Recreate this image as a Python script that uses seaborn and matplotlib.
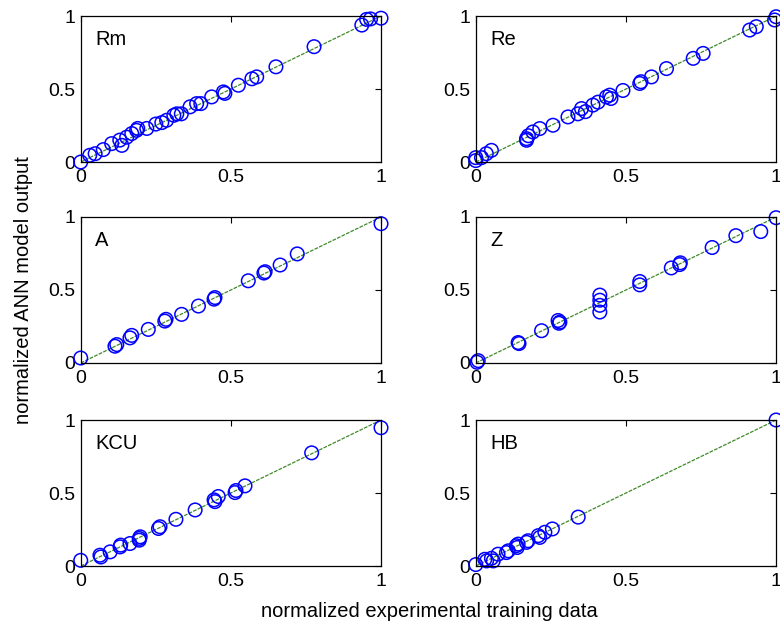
import matplotlib
matplotlib.use("Agg")
import matplotlib.pyplot as plt
import seaborn as sns
import pandas as pd

# ---- data ----
panel_names = ["Rm", "Re", "A", "Z", "KCU", "HB"]

rm_x = [0.0, 0.03, 0.048, 0.075, 0.103, 0.13, 0.137, 0.153, 0.17, 0.186, 0.19, 0.22, 0.25, 0.27, 0.286, 0.31, 0.32, 0.335, 0.364, 0.386, 0.40, 0.436, 0.475, 0.48, 0.525, 0.57, 0.586, 0.65, 0.777, 0.936, 0.952, 0.965, 1.0]
rm_y = [0.0, 0.046, 0.057, 0.085, 0.126, 0.15, 0.114, 0.17, 0.195, 0.217, 0.23, 0.23, 0.26, 0.27, 0.286, 0.32, 0.33, 0.33, 0.378, 0.40, 0.40, 0.446, 0.48, 0.47, 0.526, 0.57, 0.583, 0.652, 0.79, 0.938, 0.977, 0.98, 0.985]

re_x = [0.0, 0.0, 0.019, 0.035, 0.052, 0.169, 0.175, 0.169, 0.19, 0.213, 0.257, 0.307, 0.34, 0.352, 0.365, 0.39, 0.407, 0.435, 0.446, 0.45, 0.49, 0.546, 0.55, 0.585, 0.635, 0.724, 0.757, 0.912, 0.934, 0.995, 1.0]
re_y = [0.03, 0.01, 0.03, 0.057, 0.08, 0.16, 0.18, 0.149, 0.206, 0.229, 0.252, 0.309, 0.33, 0.366, 0.345, 0.39, 0.41, 0.446, 0.458, 0.435, 0.49, 0.538, 0.55, 0.583, 0.64, 0.71, 0.744, 0.904, 0.927, 0.973, 0.995]

a_x = [0.0, 0.114, 0.12, 0.164, 0.17, 0.225, 0.28, 0.284, 0.336, 0.392, 0.444, 0.447, 0.558, 0.61, 0.614, 0.664, 0.721, 1.0]
a_y = [0.034, 0.115, 0.126, 0.172, 0.189, 0.23, 0.287, 0.299, 0.333, 0.39, 0.437, 0.448, 0.563, 0.616, 0.625, 0.671, 0.747, 0.954]

z_x = [0.004, 0.008, 0.141, 0.144, 0.219, 0.274, 0.277, 0.28, 0.413, 0.413, 0.413, 0.413, 0.546, 0.546, 0.651, 0.679, 0.681, 0.787, 0.866, 0.949, 1.0]
z_y = [0.005, 0.016, 0.14, 0.133, 0.221, 0.291, 0.272, 0.28, 0.465, 0.43, 0.395, 0.349, 0.558, 0.535, 0.651, 0.674, 0.686, 0.791, 0.872, 0.90, 0.995]

kcu_x = [0.0, 0.064, 0.067, 0.098, 0.131, 0.133, 0.164, 0.195, 0.198, 0.195, 0.259, 0.264, 0.317, 0.381, 0.444, 0.447, 0.458, 0.514, 0.517, 0.547, 0.769, 1.0]
kcu_y = [0.039, 0.074, 0.062, 0.097, 0.131, 0.143, 0.154, 0.177, 0.20, 0.189, 0.257, 0.269, 0.32, 0.384, 0.453, 0.441, 0.476, 0.503, 0.517, 0.549, 0.775, 0.947]

hb_x = [0.0, 0.03, 0.036, 0.052, 0.058, 0.074, 0.102, 0.108, 0.135, 0.141, 0.138, 0.169, 0.174, 0.208, 0.213, 0.23, 0.255, 0.341, 1.0]
hb_y = [0.01, 0.046, 0.035, 0.053, 0.035, 0.081, 0.092, 0.104, 0.139, 0.15, 0.127, 0.162, 0.173, 0.208, 0.196, 0.231, 0.254, 0.335, 1.0]

fit_x = [0.0, 1.0]
fit_y = [0.0, 1.0]

tick_vals = [0, 0.5, 1]
tick_labels = ["0", "0.5", "1"]

xs = [rm_x, re_x, a_x, z_x, kcu_x, hb_x]
ys = [rm_y, re_y, a_y, z_y, kcu_y, hb_y]

# ---- style ----
sns.set_theme(style="white")
plt.rcParams["font.family"] = ["Liberation Sans", "DejaVu Sans"]
plt.rcParams["text.color"] = "black"

fig = plt.figure(figsize=(7.8, 6.28), dpi=100)

lefts = [0.1035, 0.610]
bottoms = [0.742, 0.422, 0.0987]
w, h = 0.385, 0.2325

for i, name in enumerate(panel_names):
    r, c = divmod(i, 2)
    ax = fig.add_axes([lefts[c], bottoms[r], w, h])
    line_df = pd.DataFrame({"x": fit_x, "y": fit_y})
    sns.lineplot(data=line_df, x="x", y="y", ax=ax, color="#3f8a2a",
                 linewidth=0.9, linestyle=(0, (3, 1)), zorder=1)
    df = pd.DataFrame({"x": xs[i], "y": ys[i]})
    sns.scatterplot(data=df, x="x", y="y", ax=ax, marker="o", s=95,
                    facecolors="none", edgecolor="#0000ff", linewidth=1.1,
                    zorder=2, clip_on=False)
    for coll in ax.collections:
        coll.set_facecolor("none")
        coll.set_edgecolor("#0000ff")
    ax.set_xlim(0, 1)
    ax.set_ylim(0, 1)
    ax.set_xticks(tick_vals)
    ax.set_xticklabels(tick_labels)
    ax.set_yticks(tick_vals)
    ax.set_yticklabels(tick_labels)
    ax.set_xlabel("")
    ax.set_ylabel("")
    ax.tick_params(direction="in", top=True, right=True, length=4, width=0.8,
                   labelsize=14, colors="black")
    ax.tick_params(axis="x", pad=5)
    ax.tick_params(axis="y", pad=4)
    for sp in ax.spines.values():
        sp.set_visible(True)
        sp.set_color("black")
        sp.set_linewidth(0.9)
    ax.text(0.048, 0.84, name, transform=ax.transAxes, fontsize=14.5,
            color="black", va="center", ha="left")

fig.text(0.551, 0.027, "normalized experimental training data",
         ha="center", va="center", fontsize=14.5, color="black")
fig.text(0.030, 0.538, "normalized ANN model output", rotation=90,
         ha="center", va="center", fontsize=14.5, color="black")

fig.savefig("out.png", dpi=100, facecolor="white")
